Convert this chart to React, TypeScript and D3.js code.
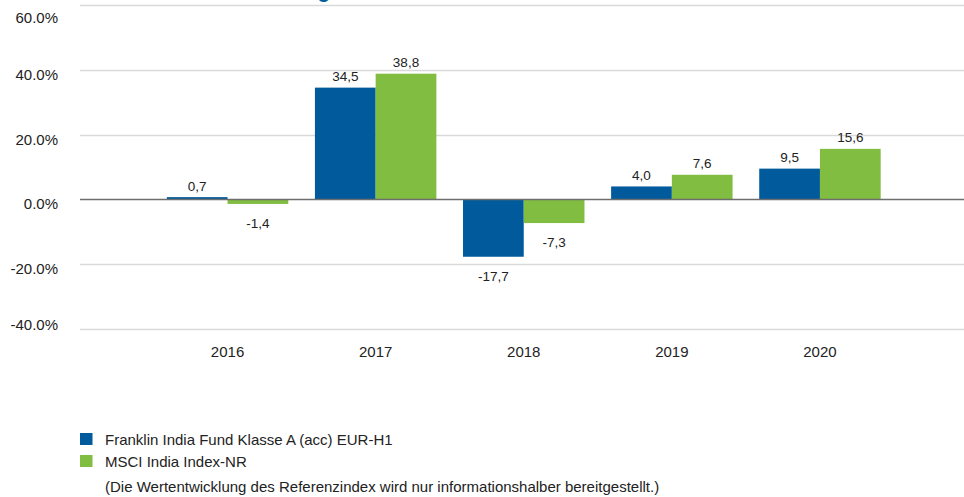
import React from "react";
import * as d3 from "d3";

const years = ["2016", "2017", "2018", "2019", "2020"];
const fundValues = [0.7, 34.5, -17.7, 4.0, 9.5];
const indexValues = [-1.4, 38.8, -7.3, 7.6, 15.6];
const yTicks = [-40, -20, 0, 20, 40, 60];
const seriesNames = [
  "Franklin India Fund Klasse A (acc) EUR-H1",
  "MSCI India Index-NR",
];
const note =
  "(Die Wertentwicklung des Referenzindex wird nur informationshalber bereitgestellt.)";
const titleText = "Wertentwicklung";

const W = 964;
const H = 497;
const colors = ["#005a9c", "#80bd41"];
const font = "'Liberation Sans', Arial, sans-serif";

export default function App() {
  const x = d3
    .scaleBand<string>()
    .domain(years)
    .range([153.5, 894])
    .paddingInner(0.18)
    .paddingOuter(0.09);
  const sub = d3
    .scaleBand<number>()
    .domain([0, 1])
    .range([0, x.bandwidth()]);
  const y = d3.scaleLinear().domain([-40, 60]).range([329, 5]);
  const fmt = (v: number) => v.toFixed(1).replace(".", ",");
  const series = [fundValues, indexValues];

  return (
    <div style={{ position: "absolute", left: 0, top: 0 }}>
      <svg width={W} height={H} style={{ display: "block", background: "#fff" }}>
        <text
          x={330}
          y={-2}
          textAnchor="end"
          fontFamily={font}
          fontWeight="bold"
          fontSize={20}
          fill={colors[0]}
        >
          {titleText}
        </text>
        {yTicks
          .filter((t) => t !== 0)
          .map((t) => (
            <line
              key={"g" + t}
              x1={80}
              x2={W}
              y1={Math.round(y(t)) + 0.5}
              y2={Math.round(y(t)) + 0.5}
              stroke="#d9d9d9"
              strokeWidth={1.5}
            />
          ))}
        {yTicks.map((t) => (
          <text
            key={"yl" + t}
            x={58}
            y={Math.min(Math.max(y(t) + 10, 23), 330)}
            textAnchor="end"
            fontFamily={font}
            fontSize={15}
            fill="#222"
          >
            {t.toFixed(1) + "%"}
          </text>
        ))}
        {years.map((yr, i) =>
          series.map((vals, s) => {
            const v = vals[i];
            const bx = (x(yr) as number) + (sub(s) as number);
            const top = y(Math.max(v, 0));
            const bottom = y(Math.min(v, 0));
            return (
              <g key={yr + s}>
                <rect
                  x={bx}
                  y={top}
                  width={sub.bandwidth()}
                  height={Math.max(bottom - top, 0)}
                  fill={colors[s]}
                />
                <text
                  x={bx + sub.bandwidth() / 2}
                  y={v >= 0 ? top - 6.5 : bottom + 24}
                  textAnchor="middle"
                  fontFamily={font}
                  fontSize={13.5}
                  fill="#222"
                >
                  {fmt(v)}
                </text>
              </g>
            );
          })
        )}
        <line
          x1={80}
          x2={W}
          y1={y(0)}
          y2={y(0)}
          stroke="#6e6e6e"
          strokeWidth={1.5}
        />
        {years.map((yr) => (
          <text
            key={"xl" + yr}
            x={(x(yr) as number) + x.bandwidth() / 2}
            y={357}
            textAnchor="middle"
            fontFamily={font}
            fontSize={15}
            fill="#222"
          >
            {yr}
          </text>
        ))}
        {seriesNames.map((name, s) => (
          <g key={name}>
            <rect x={80} y={433 + s * 22} width={12.5} height={12} fill={colors[s]} />
            <text x={105} y={445 + s * 21.5} fontFamily={font} fontSize={15} fill="#222">
              {name}
            </text>
          </g>
        ))}
        <text x={105} y={492} fontFamily={font} fontSize={15} fill="#222">
          {note}
        </text>
      </svg>
    </div>
  );
}
